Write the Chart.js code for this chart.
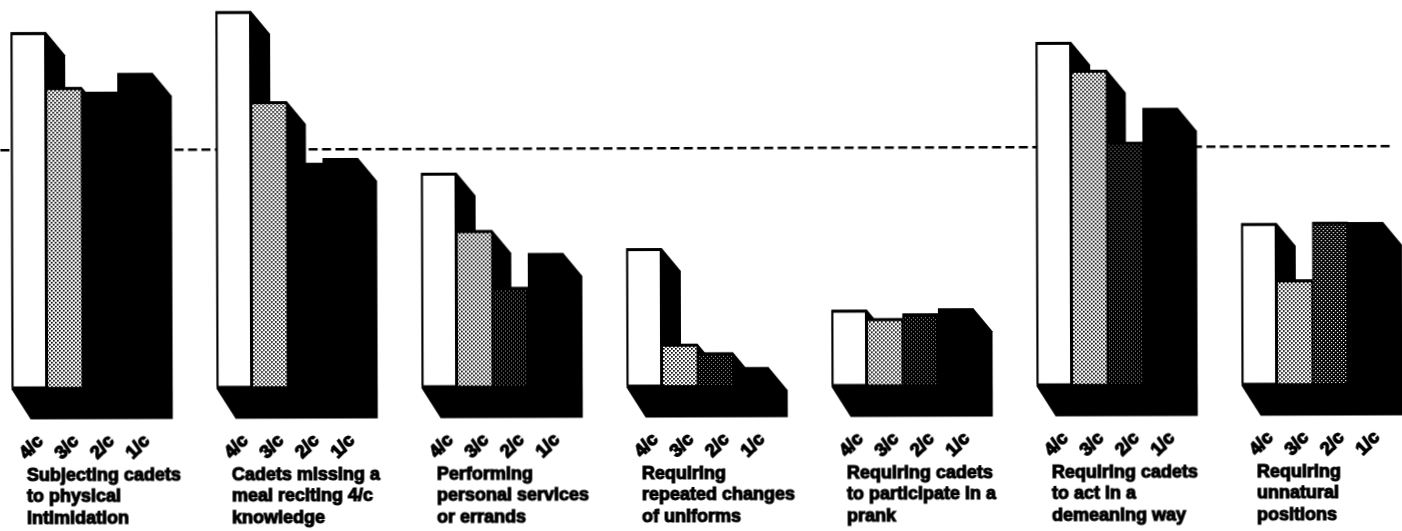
<!DOCTYPE html>
<html>
<head>
<meta charset="utf-8">
<title>Chart</title>
<script src="https://cdn.jsdelivr.net/npm/chart.js@4"></script>
<style>
  html, body { margin: 0; padding: 0; background: #fff; overflow: hidden; }
  #chart { display: block; transform-origin: 0 0; transform: rotate(-0.17deg); }
</style>
</head>
<body>
<canvas id="chart" width="1402" height="531"></canvas>
<script>
const groupTitles = [
  ["Subjecting cadets", "to physical", "intimidation"],
  ["Cadets missing a", "meal reciting 4/c", "knowledge"],
  ["Performing", "personal services", "or errands"],
  ["Requiring", "repeated changes", "of uniforms"],
  ["Requiring cadets", "to participate in a", "prank"],
  ["Requiring cadets", "to act in a", "demeaning way"],
  ["Requiring", "unnatural", "positions"]
]
const classLabels = ["4/c", "3/c", "2/c", "1/c"]
const fourthClass = [74.9, 79.2, 45.0, 29.0, 15.9, 72.2, 33.9]
const thirdClass = [63.3, 60.2, 32.9, 8.8, 14.1, 66.3, 22.0]
const secondClass = [62.3, 47.2, 20.9, 7.0, 15.1, 51.1, 34.1]
const firstClass = [66.2, 48.2, 28.0, 3.8, 16.1, 58.2, 34.0]
const referenceLevel = 50

const depthX = 19
const depthTop = 23
const depthFloor = 32
const labelFont = "bold 18px 'Liberation Sans', Arial, sans-serif"

function stipple(bg, dot, size) {
  const tile = document.createElement("canvas")
  tile.width = 4
  tile.height = 4
  const c = tile.getContext("2d")
  c.fillStyle = bg
  c.fillRect(0, 0, 4, 4)
  c.fillStyle = dot
  c.fillRect(0, 0, size, size)
  c.fillRect(2, 2, size, size)
  return c.createPattern(tile, "repeat")
}

const lightDots = stipple("#ffffff", "#000000", 1.7)
const sparseDots = stipple("#000000", "#a0a0a0", 1)
const denseDots = stipple("#000000", "#ffffff", 1.2)
// 2/c printed solid in the first two groups, and lightest in the last
const secondFill = ["#000000", "#000000", sparseDots, sparseDots, sparseDots, sparseDots, denseDots]

const depth3d = {
  id: "depth3d",
  afterLayout(chart) {
    // first group starts 21px left of the page, layout padding can't go negative
    const x = chart.scales.x
    x.left = -21
    x.right = 1414
    x.width = 1435
    x.configure()
    chart.chartArea.left = -21
    chart.chartArea.right = 1414
    chart.chartArea.width = 1435
  },
  beforeDatasetsDraw(chart) {
    const ctx = chart.ctx
    const levelY = chart.scales.y.getPixelForValue(referenceLevel)
    ctx.save()
    ctx.strokeStyle = "#000"
    ctx.lineWidth = 2.5
    ctx.setLineDash([9, 4.4])
    ctx.beginPath()
    ctx.moveTo(0, levelY)
    ctx.lineTo(1391, levelY)
    ctx.stroke()
    ctx.setLineDash([])

    ctx.fillStyle = "#000"
    chart.data.datasets.forEach((ds, i) => {
      chart.getDatasetMeta(i).data.forEach((bar) => {
        const left = bar.x - bar.width / 2
        const right = bar.x + bar.width / 2
        ctx.beginPath()
        ctx.moveTo(right, bar.y)
        ctx.lineTo(right + depthX, bar.y + depthTop)
        ctx.lineTo(right + depthX, bar.base + depthFloor)
        ctx.lineTo(left + depthX, bar.base + depthFloor)
        ctx.lineTo(left, bar.base + 2)
        ctx.lineTo(left, bar.y)
        ctx.closePath()
        ctx.fill()
      })
    })
    ctx.restore()
  },
  afterDatasetsDraw(chart) {
    const ctx = chart.ctx
    ctx.save()
    ctx.font = labelFont
    ctx.fillStyle = "#000"
    ctx.strokeStyle = "#000"
    ctx.lineWidth = 1.4
    ctx.textAlign = "center"
    ctx.textBaseline = "middle"
    chart.data.datasets.forEach((ds, i) => {
      chart.getDatasetMeta(i).data.forEach((bar) => {
        ctx.save()
        ctx.translate(bar.x + 2, bar.base + 60)
        ctx.rotate(-Math.PI / 4)
        ctx.fillText(ds.label, 0, 0)
        ctx.strokeText(ds.label, 0, 0)
        ctx.restore()
      })
    })
    ctx.restore()
  }
}

new Chart(document.getElementById("chart"), {
  type: "bar",
  plugins: [depth3d],
  data: {
    labels: groupTitles,
    datasets: [
      { label: classLabels[0], data: fourthClass, backgroundColor: "#ffffff", borderWidth: { top: 3, left: 2, right: 2, bottom: 1 } },
      { label: classLabels[1], data: thirdClass, backgroundColor: lightDots, borderWidth: { top: 3, left: 1, right: 1, bottom: 0 } },
      { label: classLabels[2], data: secondClass, backgroundColor: secondFill, borderWidth: { top: 3, left: 1, right: 1, bottom: 0 } },
      { label: classLabels[3], data: firstClass, backgroundColor: "#000000", borderWidth: 0 }
    ]
  },
  options: {
    responsive: false,
    animation: false,
    layout: { padding: { top: 8 } },
    datasets: {
      bar: {
        borderColor: "#000",
        borderSkipped: false,
        barPercentage: 1,
        categoryPercentage: 0.693
      }
    },
    plugins: { legend: { display: false }, tooltip: { enabled: false } },
    scales: {
      x: {
        border: { display: false },
        grid: { display: false, drawTicks: false },
        afterFit(scale) {
          scale.height = 143.4
          scale.paddingLeft = 0
          scale.paddingRight = 0
        },
        ticks: {
          autoSkip: false,
          maxRotation: 0,
          align: "start",
          labelOffset: -56,
          padding: 78,
          color: "#000",
          textStrokeColor: "#000",
          textStrokeWidth: 1.1,
          font: { family: "'Liberation Sans', Arial, sans-serif", weight: "bold", size: 18, lineHeight: 1.18 }
        }
      },
      y: { display: false, min: 0, max: 80 }
    }
  }
})
</script>
</body>
</html>
